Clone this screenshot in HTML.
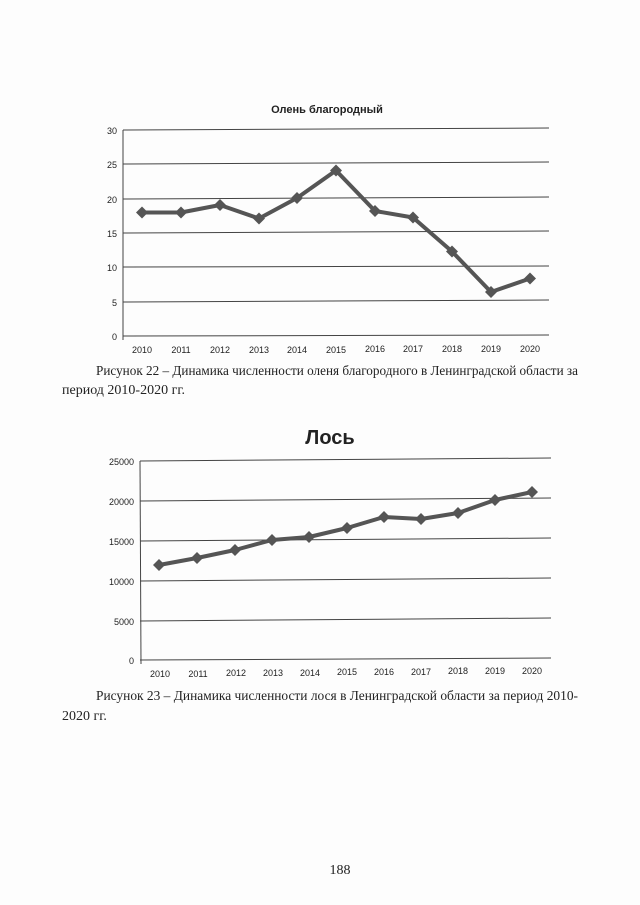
<!DOCTYPE html>
<html><head><meta charset="utf-8"><style>
body{margin:0;background:#fdfdfd;}
svg{display:block}
</style></head><body>
<svg width="640" height="905" xmlns="http://www.w3.org/2000/svg">
<rect width="640" height="905" fill="#fdfdfd"/>
<g font-family="'Liberation Sans', sans-serif" fill="#222">
<text x="327" y="113" font-size="11" font-weight="bold" text-anchor="middle">Олень благородный</text>
<g stroke="#444" stroke-width="1">
<line x1="123" y1="130" x2="549" y2="128"/>
<line x1="123" y1="164" x2="549" y2="162"/>
<line x1="123" y1="199" x2="549" y2="197"/>
<line x1="123" y1="233" x2="549" y2="231"/>
<line x1="123" y1="267" x2="549" y2="266"/>
<line x1="123" y1="302" x2="549" y2="300"/>
<line x1="123" y1="336" x2="549" y2="335"/>
<line x1="123" y1="130" x2="123" y2="340"/>
</g>
<g font-size="9" text-anchor="end">
<text x="117" y="134">30</text><text x="117" y="168">25</text><text x="117" y="203">20</text>
<text x="117" y="237">15</text><text x="117" y="271">10</text><text x="117" y="306">5</text><text x="117" y="340">0</text>
</g>
<g font-size="9" text-anchor="middle">
<text x="142" y="353">2010</text><text x="181" y="353">2011</text><text x="220" y="353">2012</text><text x="259" y="353">2013</text><text x="297" y="353">2014</text><text x="336" y="353">2015</text><text x="375" y="352">2016</text><text x="413" y="352">2017</text><text x="452" y="352">2018</text><text x="491" y="352">2019</text><text x="530" y="352">2020</text>
</g>
<polyline fill="none" stroke="#555" stroke-width="4" stroke-linejoin="round" points="142,212.5 181,212.5 220,205 259,218.5 297,198 336,170.5 375,211 413,217.5 452,251.5 491,292 530,278.5"/>
<g fill="#555">
<path d="M142,206.5l6,6-6,6-6-6z"/><path d="M181,206.5l6,6-6,6-6-6z"/><path d="M220,199l6,6-6,6-6-6z"/><path d="M259,212.5l6,6-6,6-6-6z"/><path d="M297,192l6,6-6,6-6-6z"/><path d="M336,164.5l6,6-6,6-6-6z"/><path d="M375,205l6,6-6,6-6-6z"/><path d="M413,211.5l6,6-6,6-6-6z"/><path d="M452,245.5l6,6-6,6-6-6z"/><path d="M491,286l6,6-6,6-6-6z"/><path d="M530,272.5l6,6-6,6-6-6z"/>
</g>

<text x="330" y="444" font-size="20" font-weight="bold" text-anchor="middle">Лось</text>
<g stroke="#444" stroke-width="1">
<line x1="140" y1="461" x2="551" y2="458"/>
<line x1="140" y1="501" x2="551" y2="498"/>
<line x1="140" y1="541" x2="551" y2="538"/>
<line x1="140" y1="581" x2="551" y2="578"/>
<line x1="140" y1="621" x2="551" y2="618"/>
<line x1="140" y1="660" x2="551" y2="658"/>
<line x1="140" y1="461" x2="141" y2="664"/>
</g>
<g font-size="9" text-anchor="end">
<text x="134" y="465">25000</text><text x="134" y="505">20000</text><text x="134" y="545">15000</text>
<text x="134" y="585">10000</text><text x="134" y="625">5000</text><text x="134" y="664">0</text>
</g>
<g font-size="9" text-anchor="middle">
<text x="160" y="677">2010</text><text x="198" y="677">2011</text><text x="236" y="676">2012</text><text x="273" y="676">2013</text><text x="310" y="676">2014</text><text x="347" y="675">2015</text><text x="384" y="675">2016</text><text x="421" y="675">2017</text><text x="458" y="674">2018</text><text x="495" y="674">2019</text><text x="532" y="674">2020</text>
</g>
<polyline fill="none" stroke="#555" stroke-width="4" stroke-linejoin="round" points="159,565 197,558 235,550 272,540 309,537 347,528 384,517 421,519 458,513 495,500 532,492"/>
<g fill="#555">
<path d="M159,559l6,6-6,6-6-6z"/><path d="M197,552l6,6-6,6-6-6z"/><path d="M235,544l6,6-6,6-6-6z"/><path d="M272,534l6,6-6,6-6-6z"/><path d="M309,531l6,6-6,6-6-6z"/><path d="M347,522l6,6-6,6-6-6z"/><path d="M384,511l6,6-6,6-6-6z"/><path d="M421,513l6,6-6,6-6-6z"/><path d="M458,507l6,6-6,6-6-6z"/><path d="M495,494l6,6-6,6-6-6z"/><path d="M532,486l6,6-6,6-6-6z"/>
</g>
</g>
<g font-family="'Liberation Serif', serif" font-size="14" fill="#222">
<text x="96" y="375" textLength="482" lengthAdjust="spacingAndGlyphs">Рисунок 22 – Динамика численности оленя благородного в Ленинградской области за</text>
<text x="62" y="394">период 2010-2020 гг.</text>
<text x="96" y="700" textLength="482" lengthAdjust="spacingAndGlyphs">Рисунок 23 – Динамика численности лося в Ленинградской области за период 2010-</text>
<text x="62" y="720">2020 гг.</text>
<text x="340" y="874" text-anchor="middle">188</text>
</g>
</svg>
</body></html>
